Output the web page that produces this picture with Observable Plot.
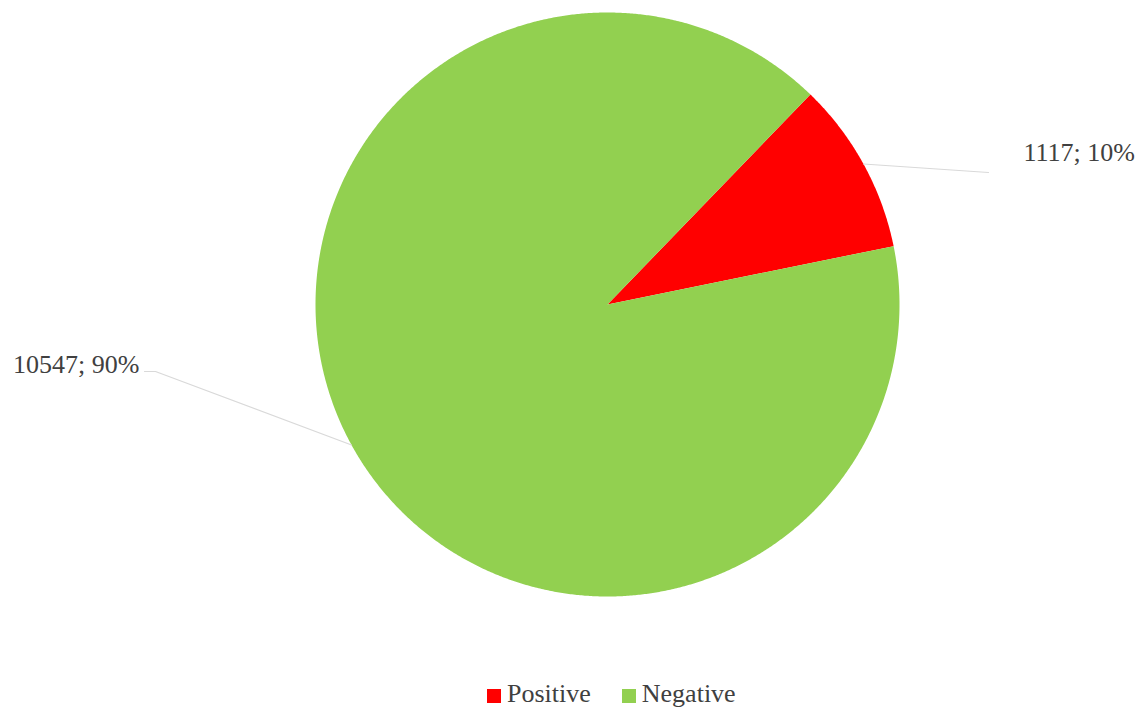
<!DOCTYPE html>
<html>
<head>
<meta charset="utf-8">
<script src="https://cdn.jsdelivr.net/npm/d3@7"></script>
<script src="https://cdn.jsdelivr.net/npm/@observablehq/plot@0.6"></script>
<style>
  html, body { margin: 0; padding: 0; background: #fff; }
  #legend { display: flex; align-items: center; height: 36px; padding-left: 487px;
    font-family: "Liberation Serif", "Times New Roman", serif; font-size: 26px; color: #404040; }
  #legend .item { display: flex; align-items: center; margin-right: 31px; }
  #legend .sw { width: 14px; height: 14px; margin-right: 6px; margin-top: 3px; }
</style>
</head>
<body>
<div id="chart"></div>
<div id="legend"></div>
<script>
const categories = ["Positive", "Negative"];
const values = [1117, 10547];
const colors = ["#FF0000", "#92D050"];

// layout
const W = 1142, H = 676;
const cx = 607, cy = 304, R = 292, startDeg = 44;
const labelLayout = {
  Positive: { path: [[988, 172]], text: [1023, 152], anchor: "start" },
  Negative: { path: [[155, 371], [144, 371]], text: [139, 364], anchor: "end" }
};

const data = categories.map((name, i) => ({ name, value: values[i] }));
const total = d3.sum(values);
const start = startDeg * Math.PI / 180;
const arcs = d3.pie().sort(null).value(d => d.value).startAngle(start).endAngle(start + 2 * Math.PI)(data);

const slicePts = arcs.flatMap(a => {
  const pts = [{ name: a.data.name, x: cx, y: cy }];
  const n = Math.max(16, Math.ceil((a.endAngle - a.startAngle) * 180));
  for (let i = 0; i <= n; i++) {
    const t = a.startAngle + (a.endAngle - a.startAngle) * i / n;
    pts.push({ name: a.data.name, x: cx + R * Math.sin(t), y: cy - R * Math.cos(t) });
  }
  return pts;
});

const leaderPts = arcs.flatMap(a => {
  const m = (a.startAngle + a.endAngle) / 2;
  const lay = labelLayout[a.data.name];
  return [{ name: a.data.name, x: cx + R * Math.sin(m), y: cy - R * Math.cos(m) }]
    .concat(lay.path.map(([x, y]) => ({ name: a.data.name, x, y })));
});

const labels = arcs.map(a => {
  const lay = labelLayout[a.data.name];
  return { name: a.data.name, x: lay.text[0], y: lay.text[1], anchor: lay.anchor,
    text: `${a.data.value}; ${Math.round(a.data.value / total * 100)}%` };
});

const chart = Plot.plot({
  width: W, height: H,
  margin: 0,
  x: { domain: [0, W], range: [0, W], axis: null },
  y: { domain: [0, H], range: [0, H], axis: null },
  color: { domain: categories, range: colors },
  style: { fontFamily: '"Liberation Serif", "Times New Roman", serif', background: "#fff" },
  marks: [
    Plot.line(slicePts, { x: "x", y: "y", z: "name", fill: "name", stroke: "none" }),
    Plot.line(leaderPts, { x: "x", y: "y", z: "name", stroke: "#D9D9D9", strokeWidth: 1.2 }),
    Plot.text(labels.filter(d => d.anchor === "start"), { x: "x", y: "y", text: "text", textAnchor: "start", fontSize: 26, fill: "#404040" }),
    Plot.text(labels.filter(d => d.anchor === "end"), { x: "x", y: "y", text: "text", textAnchor: "end", fontSize: 26, fill: "#404040" })
  ]
});
document.getElementById("chart").appendChild(chart);

const legend = document.getElementById("legend");
categories.forEach((c, i) => {
  const item = document.createElement("div");
  item.className = "item";
  const sw = document.createElement("span");
  sw.className = "sw";
  sw.style.background = colors[i];
  const tx = document.createElement("span");
  tx.textContent = c;
  item.appendChild(sw); item.appendChild(tx);
  legend.appendChild(item);
});
</script>
</body>
</html>
